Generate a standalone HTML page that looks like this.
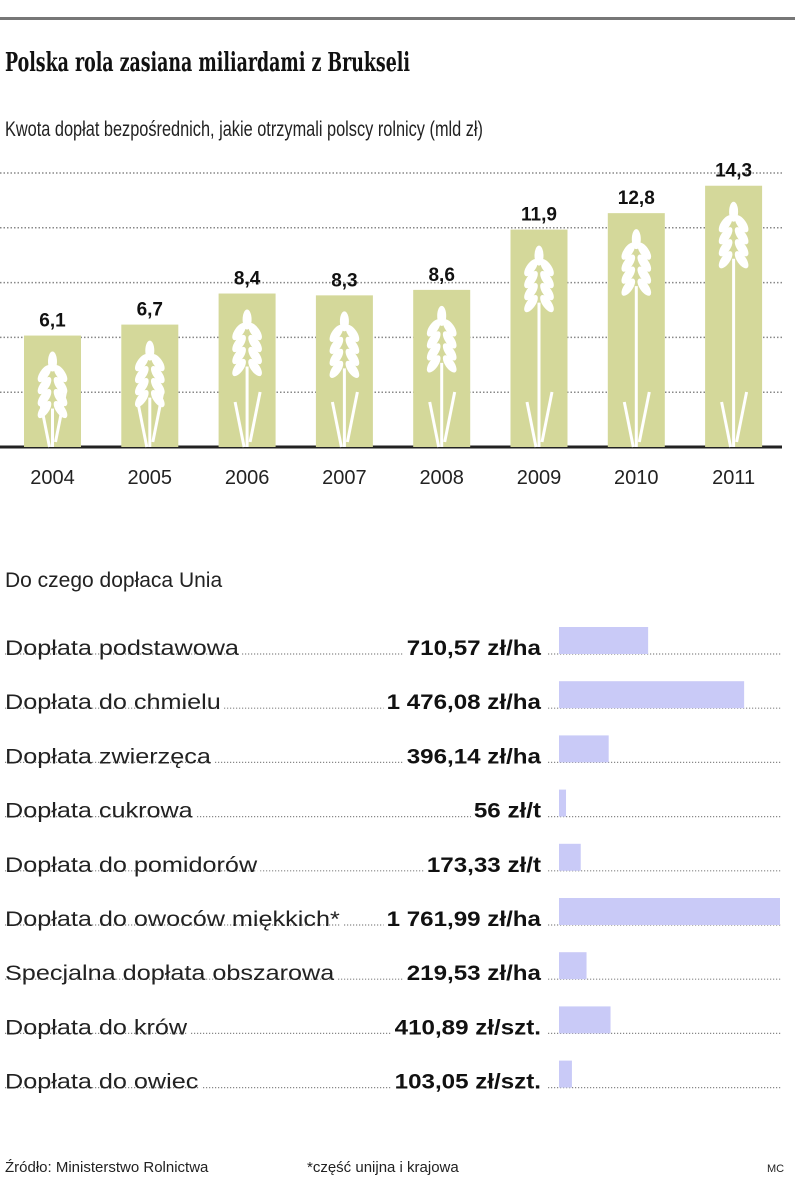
<!DOCTYPE html>
<html><head><meta charset="utf-8"><style>
body{margin:0;background:#fff;width:805px;height:1186px;overflow:hidden;font-family:"Liberation Sans","DejaVu Sans",sans-serif}
svg{display:block}
</style></head><body>
<svg id="c" width="805" height="1186">
<rect x="0" y="17" width="795" height="3" fill="#777"/>
<text x="5" y="71" font-family="DejaVu Serif, serif" font-weight="bold" font-size="26" fill="#111" textLength="405" lengthAdjust="spacingAndGlyphs">Polska rola zasiana miliardami z Brukseli</text>
<text x="5" y="136" font-size="21" fill="#222" textLength="478" lengthAdjust="spacingAndGlyphs">Kwota dopłat bezpośrednich, jakie otrzymali polscy rolnicy (mld zł)</text>
<g id="topg"></g>
<text x="5" y="587" font-size="21" fill="#222">Do czego dopłaca Unia</text>
<g id="botg"></g>
<text x="5" y="1172" font-size="15" fill="#222">Źródło: Ministerstwo Rolnictwa</text>
<text x="307" y="1172" font-size="15" fill="#222">*część unijna i krajowa</text>
<text x="767" y="1172" font-size="11" fill="#222">MC</text>
</svg>
<script>
const years=["2004","2005","2006","2007","2008","2009","2010","2011"];
const amounts=[6.1,6.7,8.4,8.3,8.6,11.9,12.8,14.3];
const amountLabels=["6,1","6,7","8,4","8,3","8,6","11,9","12,8","14,3"];
const gridTicks=[3,6,9,12,15];
const subsidyNames=["Dopłata podstawowa","Dopłata do chmielu","Dopłata zwierzęca","Dopłata cukrowa","Dopłata do pomidorów","Dopłata do owoców miękkich*","Specjalna dopłata obszarowa","Dopłata do krów","Dopłata do owiec"];
const subsidyValues=[710.57,1476.08,396.14,56,173.33,1761.99,219.53,410.89,103.05];
const subsidyLabels=["710,57 zł/ha","1 476,08 zł/ha","396,14 zł/ha","56 zł/t","173,33 zł/t","1 761,99 zł/ha","219,53 zł/ha","410,89 zł/szt.","103,05 zł/szt."];
const NS="http://www.w3.org/2000/svg";
function mk(p,t,a){const e=document.createElementNS(NS,t);for(const k in a)e.setAttribute(k,a[k]);p.appendChild(e);return e;}
const topG=document.getElementById('topg'),botG=document.getElementById('botg');
const base=447,unit=18.27;
const yS=v=>base-v*unit;
const xS=i=>24+i*97.3;
const bw=57;
gridTicks.forEach(t=>{const l=mk(topG,'line',{x1:0,x2:782,y1:yS(t),y2:yS(t),stroke:'#888','stroke-width':1.5,'stroke-dasharray':'1.5 2'});

});
mk(topG,'rect',{x:0,y:base-1.5,width:782,height:3,fill:'#222'});
amounts.forEach((v,i)=>{
 const bx=xS(i),by=yS(v),h=base-by;
 const g=mk(topG,'g',{});
 
 
 mk(g,'rect',{x:bx,y:by,width:bw,height:h,fill:'#d4d89a'});
 const cx=bx+bw/2,st=by+18;
 mk(g,'line',{x1:cx,y1:st+55,x2:cx,y2:base,stroke:'#fff','stroke-width':3});
 mk(g,'ellipse',{cx:cx,cy:st+8,rx:4.5,ry:10,fill:'#fff'});
 for(let k=0;k<4;k++){const yy=st+20+k*12;
  mk(g,'ellipse',{cx:cx-8,cy:yy,rx:4.5,ry:10,fill:'#fff',transform:`rotate(35 ${cx-8} ${yy})`});
  mk(g,'ellipse',{cx:cx+8,cy:yy,rx:4.5,ry:10,fill:'#fff',transform:`rotate(-35 ${cx+8} ${yy})`});}
 if(h>100){mk(g,'path',{d:`M${cx-3} ${base} L${cx-12} ${base-45}`,stroke:'#fff','stroke-width':3});
  mk(g,'path',{d:`M${cx+3} ${base-5} L${cx+13} ${base-55}`,stroke:'#fff','stroke-width':3});}
 const lb=mk(g,'text',{x:cx,y:by-9,'text-anchor':'middle','font-size':19,'font-weight':'bold',fill:'#111'});lb.textContent=amountLabels[i];
 
 
 const yl=mk(topG,'text',{x:cx,y:484,'text-anchor':'middle','font-size':20,fill:'#222'});yl.textContent=years[i];
 
 
});
const maxV=Math.max(...subsidyValues),bx0=559,bmax=221;
subsidyNames.forEach((n,i)=>{
 const ly=654+i*54.2;
 const g=mk(botG,'g',{});
 
 
 mk(g,'line',{x1:5,x2:782,y1:ly,y2:ly,stroke:'#888','stroke-width':1.2,'stroke-dasharray':'1.2 1.8'});
 const w=subsidyValues[i]/maxV*bmax;
 mk(g,'rect',{x:bx0,y:ly-27,width:w,height:27,fill:'#c9caf7'});
 const t=mk(g,'text',{x:5,y:ly+1,'font-size':21,fill:'#222'});t.textContent=n;
 const tw=t.getComputedTextLength()*1.2;
 t.setAttribute('textLength',tw);t.setAttribute('lengthAdjust','spacingAndGlyphs');
 mk(g,'rect',{x:5+tw,y:ly-6,width:3,height:8,fill:'#fff'});
 const v=mk(g,'text',{x:541,y:ly+1,'text-anchor':'end','font-size':21,'font-weight':'bold',fill:'#111'});v.textContent=subsidyLabels[i];
 const vw=v.getComputedTextLength()*1.15;
 v.setAttribute('textLength',vw);v.setAttribute('lengthAdjust','spacingAndGlyphs');
 mk(g,'rect',{x:541-vw-3,y:ly-4,width:vw+10,height:8,fill:'#fff'});
 g.appendChild(v);
});
</script>
</body></html>
